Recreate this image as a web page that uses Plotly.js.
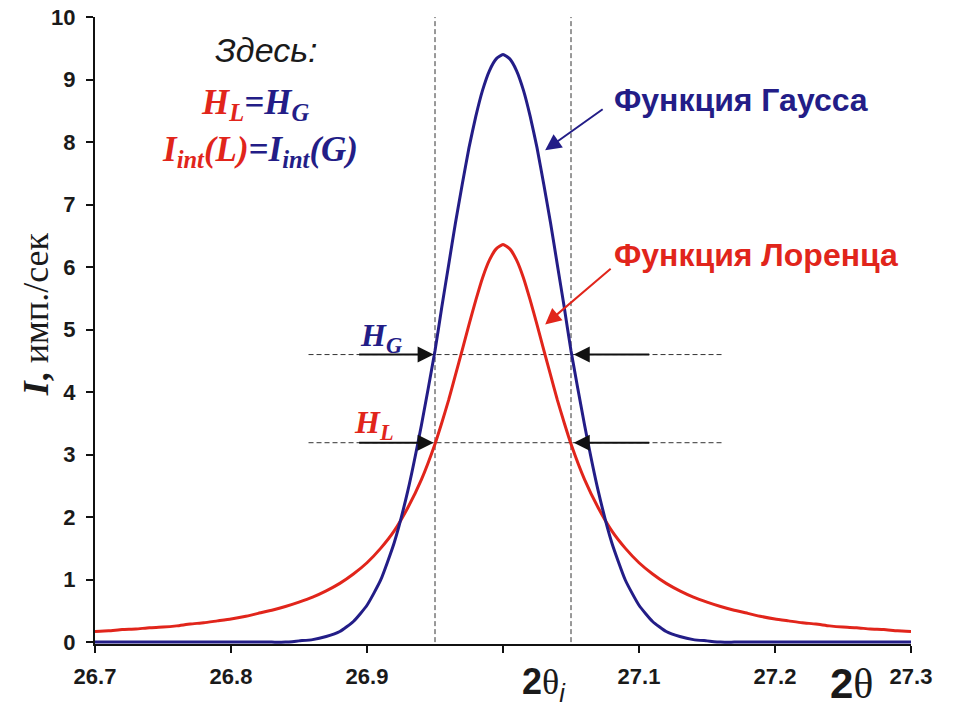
<!DOCTYPE html>
<html>
<head>
<meta charset="utf-8">
<script src="https://cdn.plot.ly/plotly-3.0.1.min.js"></script>
<style>html,body{margin:0;padding:0;background:#fff;}#chart{width:959px;height:707px;}</style>
</head>
<body>
<div id="chart"></div>
<script>
// 2θ values (degrees); finer steps around the peak
const twoTheta = [26.70,26.71,26.72,26.73,26.74,26.75,26.76,26.77,26.78,26.79,
  26.80,26.81,26.82,26.83,26.84,26.85,26.86,26.87,26.88,26.89,
  26.90,26.91,26.92,26.93,26.94,26.95,26.955,26.96,26.965,26.97,26.975,26.98,26.985,26.99,26.995,
  27.00,27.005,27.01,27.015,27.02,27.025,27.03,27.035,27.04,27.045,27.05,27.06,27.07,27.08,27.09,
  27.10,27.11,27.12,27.13,27.14,27.15,27.16,27.17,27.18,27.19,
  27.20,27.21,27.22,27.23,27.24,27.25,27.26,27.27,27.28,27.29,27.30];
// Gaussian profile intensity
const gaussI = [0,0,0,0,0,0,0,0,0,0,
  0,0,0,0,0,0.02,0.04,0.09,0.17,0.33,
  0.59,0.99,1.59,2.42,3.47,4.66,5.36,6.03,6.70,7.32,7.91,8.41,8.83,9.14,9.33,
  9.40,9.33,9.14,8.83,8.41,7.91,7.32,6.70,6.03,5.36,4.66,3.47,2.42,1.59,0.99,
  0.59,0.33,0.17,0.09,0.04,0.02,0,0,0,0,
  0,0,0,0,0,0,0,0,0,0,0];
// Lorentzian profile intensity
const lorentzI = [0.17,0.18,0.20,0.21,0.23,0.24,0.26,0.29,0.31,0.34,
  0.37,0.41,0.46,0.51,0.57,0.64,0.72,0.82,0.94,1.09,
  1.27,1.50,1.78,2.15,2.60,3.17,3.51,3.87,4.27,4.67,5.08,5.47,5.83,6.11,6.29,
  6.36,6.29,6.11,5.83,5.47,5.08,4.67,4.27,3.87,3.51,3.17,2.60,2.15,1.78,1.50,
  1.27,1.09,0.94,0.82,0.72,0.64,0.57,0.51,0.46,0.41,
  0.37,0.34,0.31,0.29,0.26,0.24,0.23,0.21,0.20,0.18,0.17];
// axis ticks
const xTickVals = [26.7,26.8,26.9,27.0,27.1,27.2,27.3];
const xTickText = ['26.7','26.8','26.9','','27.1','27.2','27.3'];
const yTickVals = [0,1,2,3,4,5,6,7,8,9,10];
// reference levels
const fwhmLeft = 26.95, fwhmRight = 27.05;
const halfG = 4.6, halfL = 3.19;
const hLineFrom = 26.857, hLineTo = 27.161;

const NAVY = '#231d87', RED = '#e1251b';

const traces = [
  {x: twoTheta, y: lorentzI, mode: 'lines', line: {color: RED, width: 3, shape: 'spline', smoothing: 0.5}, hoverinfo: 'skip'},
  {x: twoTheta, y: gaussI, mode: 'lines', line: {color: NAVY, width: 3, shape: 'spline', smoothing: 0.5}, hoverinfo: 'skip'}
];

const dash = {color: '#333', width: 1, dash: '5px,3px'};
const shapes = [
  {type: 'line', xref: 'x', yref: 'y', x0: fwhmLeft, x1: fwhmLeft, y0: 0, y1: 10, line: dash, layer: 'below'},
  {type: 'line', xref: 'x', yref: 'y', x0: fwhmRight, x1: fwhmRight, y0: 0, y1: 10, line: dash, layer: 'below'},
  {type: 'line', xref: 'x', yref: 'y', x0: hLineFrom, x1: hLineTo, y0: halfG, y1: halfG, line: dash, layer: 'below'},
  {type: 'line', xref: 'x', yref: 'y', x0: hLineFrom, x1: hLineTo, y0: halfL, y1: halfL, line: dash, layer: 'below'}
];

const serif = 'Liberation Serif, Times New Roman, serif';
const sans = 'Liberation Sans, Arial, sans-serif';

function arrow(x, y, ax, ay, color) {
  return {x: x, y: y, xref: 'x', yref: 'y', ax: ax, ay: ay, axref: 'pixel', ayref: 'pixel',
    text: '', showarrow: true, arrowhead: 2, arrowsize: 1.6, arrowwidth: 2, arrowcolor: color, standoff: 0};
}

const annotations = [
  {x: 26.826, y: 9.47, xref: 'x', yref: 'y', showarrow: false, text: '<i>Здесь:</i>',
    font: {family: sans, size: 34, color: '#1a1a1a'}},
  {x: 26.818, y: 8.6, xref: 'x', yref: 'y', showarrow: false,
    text: '<b><i><span style="color:' + RED + '">H<sub>L</sub></span>=H<sub>G</sub></i></b>',
    font: {family: serif, size: 35, color: NAVY}},
  {x: 26.821, y: 7.85, xref: 'x', yref: 'y', showarrow: false,
    text: '<b><i><span style="color:' + RED + '">I<sub>int</sub>(L)</span>=I<sub>int</sub>(G)</i></b>',
    font: {family: serif, size: 35, color: NAVY}},
  {x: 27.08, y: 8.67, xref: 'x', yref: 'y', xanchor: 'left', showarrow: false,
    text: '<b>Функция Гаусса</b>', font: {family: sans, size: 32, color: NAVY}},
  {x: 27.08, y: 6.19, xref: 'x', yref: 'y', xanchor: 'left', showarrow: false,
    text: '<b>Функция Лоренца</b>', font: {family: sans, size: 32, color: RED}},
  arrow(27.031, 7.87, 59, -42, NAVY),
  arrow(27.031, 5.08, 67, -57, RED),
  arrow(26.949, halfG, -76, 0, '#111'),
  arrow(27.052, halfG, 77, 0, '#111'),
  arrow(26.949, halfL, -76, 0, '#111'),
  arrow(27.052, halfL, 77, 0, '#111'),
  {x: 26.91, y: 4.88, xref: 'x', yref: 'y', showarrow: false,
    text: '<b><i>H<sub>G</sub></i></b>', font: {family: serif, size: 32, color: NAVY}},
  {x: 26.905, y: 3.48, xref: 'x', yref: 'y', showarrow: false,
    text: '<b><i>H<sub>L</sub></i></b>', font: {family: serif, size: 32, color: RED}},
  {x: 27.03, y: -0.063, xref: 'x', yref: 'paper', showarrow: false, xanchor: 'center', yanchor: 'middle',
    text: '<b>2</b><span style="font-family:Liberation Serif">θ</span><sub><i>i</i></sub>',
    font: {family: sans, size: 36, color: '#1a1a1a'}},
  {x: 27.2565, y: -0.063, xref: 'x', yref: 'paper', showarrow: false, xanchor: 'center', yanchor: 'middle',
    text: '<b>2</b><span style="font-family:Liberation Serif">θ</span>',
    font: {family: sans, size: 42, color: '#1a1a1a'}},
  {x: -0.072, y: 5.25, xref: 'paper', yref: 'y', xanchor: 'center', yanchor: 'middle', showarrow: false, textangle: -90,
    text: '<b><i>I</i>,</b> имп./сек', font: {family: serif, size: 36, color: '#1a1a1a'}}
];

const layout = {
  width: 959, height: 707,
  margin: {l: 95, r: 48, t: 17, b: 62.6},
  paper_bgcolor: '#fff', plot_bgcolor: '#fff',
  showlegend: false,
  xaxis: {range: [26.7, 27.3], tickvals: xTickVals, ticktext: xTickText,
    showline: true, linecolor: '#111', linewidth: 2, ticks: 'outside', ticklen: 7, tickwidth: 2, tickcolor: '#111',
    showgrid: false, zeroline: false, ticklabelstandoff: 5,
    tickfont: {family: sans, size: 22, color: '#1a1a1a', weight: 'bold'}},
  yaxis: {range: [-0.03, 10], tickvals: yTickVals,
    showline: true, linecolor: '#111', linewidth: 2, ticks: 'outside', ticklen: 7, tickwidth: 2, tickcolor: '#111',
    showgrid: false, zeroline: false, ticklabelstandoff: 6,
    tickfont: {family: sans, size: 22, color: '#1a1a1a', weight: 'bold'}},
  shapes: shapes,
  annotations: annotations
};

Plotly.newPlot('chart', traces, layout, {staticPlot: true});
</script>
</body>
</html>
